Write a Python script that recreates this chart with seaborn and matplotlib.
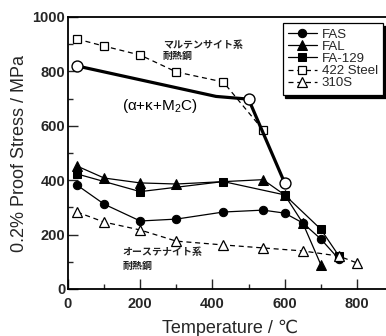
import matplotlib
matplotlib.use("Agg")
import matplotlib.pyplot as plt
from matplotlib.ticker import MultipleLocator
import seaborn as sns
import pandas as pd

# ---- data ----
fas_T = [25, 100, 200, 300, 430, 540, 600, 650, 700, 750]
fas_v = [382, 312, 250, 257, 283, 290, 279, 243, 184, 110]

fal_T = [25, 100, 200, 300, 540, 600, 650, 700]
fal_v = [452, 408, 390, 386, 402, 346, 243, 90]

fa129_T = [25, 200, 430, 600, 700, 750]
fa129_v = [423, 358, 395, 346, 220, 122]

s422_T = [25, 100, 200, 300, 430, 540]
s422_v = [919, 893, 860, 798, 761, 585]

s310_T = [25, 100, 200, 300, 430, 540, 650, 750, 800]
s310_v = [283, 246, 217, 176, 162, 151, 140, 121, 96]

new_T = [25, 410, 500, 600]
new_v = [820, 708, 698, 390]
new_mark_T = [25, 500, 600]
new_mark_v = [820, 698, 390]

x_ticks = [0, 200, 400, 600, 800]
y_ticks = [0, 200, 400, 600, 800, 1000]

sns.set_style("ticks")
plt.rcParams['font.family'] = ['Liberation Sans', 'DejaVu Sans']
plt.rcParams['mathtext.fontset'] = 'custom'
plt.rcParams['mathtext.rm'] = 'Liberation Sans'

fig = plt.figure(figsize=(3.86, 3.36), dpi=100)
ax = fig.add_axes([68/386, 1-289/336, 900*0.3611/386, 272/336])

lw = 0.9
sns.lineplot(x=fas_T, y=fas_v, ax=ax, color='black', lw=lw, marker='o', ms=6.0,
             mec='black', mfc='black', label='FAS')
sns.lineplot(x=fal_T, y=fal_v, ax=ax, color='black', lw=lw, marker='^', ms=6.8,
             mec='black', mfc='black', label='FAL')
sns.lineplot(x=fa129_T, y=fa129_v, ax=ax, color='black', lw=lw, marker='s', ms=5.2,
             mec='black', mfc='black', label='FA-129')
sns.lineplot(x=s422_T, y=s422_v, ax=ax, color='black', lw=lw, marker='s', ms=5.2,
             mec='black', mfc='white', mew=0.9, linestyle=(0, (4, 3)), label='422 Steel')
sns.lineplot(x=s310_T, y=s310_v, ax=ax, color='black', lw=lw, marker='^', ms=6.8,
             mec='black', mfc='white', mew=0.9, linestyle=(0, (4, 3)), label='310S')

sns.lineplot(x=new_T, y=new_v, ax=ax, color='black', lw=2.3, legend=False)
sns.scatterplot(x=new_mark_T, y=new_mark_v, ax=ax, s=62, facecolor='white',
                edgecolor='black', linewidth=1.0, zorder=5, legend=False)

ax.set_xlim(0, 900)
ax.set_ylim(0, 1000)
ax.set_xticks(x_ticks)
ax.set_yticks(y_ticks)
ax.xaxis.set_minor_locator(MultipleLocator(100))
ax.yaxis.set_minor_locator(MultipleLocator(100))
ax.tick_params(which='major', direction='in', length=7, width=1.0, pad=6,
               top=False, right=False)
ax.tick_params(which='minor', direction='in', length=3.5, width=1.0,
               top=False, right=False)
ax.tick_params(axis='y', which='major', pad=2)
for lab in ax.get_xticklabels() + ax.get_yticklabels():
    lab.set_fontweight('bold')
    lab.set_fontsize(10.5)
for s in ['left', 'bottom', 'top']:
    ax.spines[s].set_linewidth(1.3)
    ax.spines[s].set_color('black')
ax.spines['right'].set_visible(False)

ax.set_xlabel('Temperature / ℃', fontsize=13, labelpad=6)
ax.set_ylabel('0.2% Proof Stress / MPa', fontsize=13, labelpad=3)

# annotations
jp = ['Noto Sans CJK JP', 'DejaVu Sans']
ax.text(263, 897, 'マルテンサイト系', family=jp, fontsize=7.2, fontweight='bold',
        color='#222222', va='center', ha='left')
ax.text(263, 858, '耐熱鋼', family=jp, fontsize=7.2, fontweight='bold',
        color='#222222', va='center', ha='left')
ax.text(150, 136, 'オーステナイト系', family=jp, fontsize=7.2, fontweight='bold',
        color='#222222', va='center', ha='left')
ax.text(150, 85, '耐熱鋼', family=jp, fontsize=7.2, fontweight='bold',
        color='#222222', va='center', ha='left')
ax.text(150, 673, r'(α+κ+M$_\mathregular{2}$C)', fontsize=11, va='center', ha='left',
        color='black')

leg = ax.legend(loc='upper right', bbox_to_anchor=(383/386, 1-23/336),
                bbox_transform=fig.transFigure, borderaxespad=0,
                fontsize=9.5, frameon=True, fancybox=False,
                shadow={'ox': 2, 'oy': -2, 'color': 'black', 'alpha': 1},
                labelspacing=0.0, handlelength=2.2, handletextpad=0.35,
                borderpad=0.4)
leg.get_frame().set_edgecolor('black')
leg.get_frame().set_linewidth(0.9)
leg.get_frame().set_alpha(1)

fig.savefig('out.png', dpi=100)
